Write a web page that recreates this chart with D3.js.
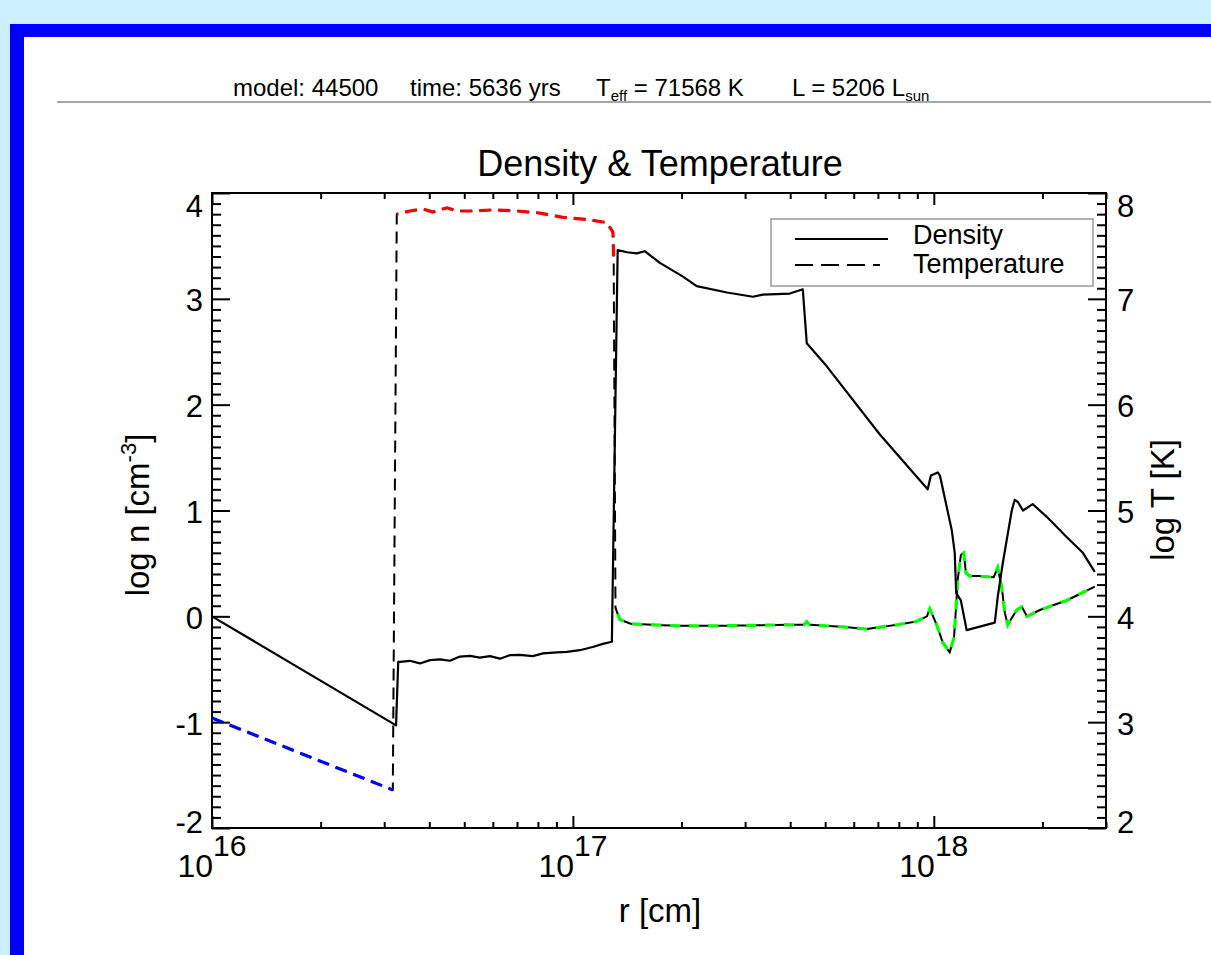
<!DOCTYPE html>
<html><head><meta charset="utf-8">
<script src="https://cdn.jsdelivr.net/npm/d3@7"></script>
<style>
body{margin:0;background:#fff;}
svg{display:block;}
text{font-family:"Liberation Sans",Arial,Helvetica,sans-serif;fill:#000;}
</style>
</head><body>
<svg id="c" width="1211" height="955"></svg>
<script>
// ---------- data ----------
const densityLogR = [16.000, 16.510, 16.516, 16.521, 16.548, 16.576, 16.604, 16.632, 16.659, 16.687, 16.715, 16.742, 16.770, 16.798, 16.825, 16.853, 16.889, 16.917, 16.956, 16.983, 17.019, 17.055, 17.083, 17.108, 17.124, 17.150, 17.177, 17.199, 17.241, 17.305, 17.343, 17.427, 17.499, 17.526, 17.601, 17.637, 17.648, 17.704, 17.850, 17.983, 17.992, 18.011, 18.017, 18.050, 18.058, 18.062, 18.075, 18.091, 18.169, 18.177, 18.191, 18.216, 18.224, 18.233, 18.247, 18.274, 18.313, 18.368, 18.413, 18.446];
const densityLogN = [0.00, -1.03, -0.43, -0.43, -0.42, -0.445, -0.414, -0.407, -0.42, -0.38, -0.373, -0.39, -0.376, -0.40, -0.367, -0.364, -0.376, -0.35, -0.34, -0.335, -0.32, -0.29, -0.26, -0.24, 3.46, 3.44, 3.43, 3.45, 3.34, 3.21, 3.12, 3.06, 3.02, 3.04, 3.05, 3.09, 2.58, 2.36, 1.72, 1.20, 1.33, 1.36, 1.33, 0.81, 0.60, 0.22, 0.15, -0.13, -0.06, 0.18, 0.50, 1.00, 1.10, 1.08, 1.00, 1.06, 0.94, 0.75, 0.60, 0.42];

const tempLogR = [16.000, 16.250, 16.501, 16.512, 16.548, 16.584, 16.612, 16.651, 16.679, 16.715, 16.778, 16.845, 16.909, 16.972, 17.039, 17.094, 17.111, 17.113, 17.118, 17.130, 17.160, 17.220, 17.296, 17.400, 17.500, 17.600, 17.640, 17.648, 17.655, 17.750, 17.814, 17.898, 17.950, 17.981, 17.989, 18.008, 18.025, 18.044, 18.056, 18.062, 18.066, 18.075, 18.083, 18.089, 18.100, 18.125, 18.166, 18.177, 18.188, 18.197, 18.205, 18.215, 18.230, 18.244, 18.258, 18.294, 18.368, 18.446];
const tempLogT = [3.04, 2.70, 2.36, 7.80, 7.83, 7.85, 7.82, 7.86, 7.83, 7.83, 7.84, 7.83, 7.81, 7.77, 7.75, 7.72, 7.63, 7.37, 4.08, 3.97, 3.93, 3.92, 3.91, 3.91, 3.915, 3.92, 3.92, 3.95, 3.92, 3.90, 3.88, 3.92, 3.95, 4.00, 4.07, 3.92, 3.75, 3.66, 3.80, 4.10, 4.34, 4.58, 4.60, 4.41, 4.38, 4.38, 4.37, 4.46, 4.28, 4.03, 3.92, 3.98, 4.06, 4.09, 4.00, 4.06, 4.15, 4.28];
const tempPhase = ["cool","cool","cool",
  "hot","hot","hot","hot","hot","hot","hot","hot","hot","hot","hot","hot","hot","hot","hot",
  "ion","ion","ion","ion","ion","ion","ion","ion","ion","ion","ion","ion","ion","ion","ion","ion","ion","ion","ion","ion","ion","ion",
  "ion","ion","ion","ion","ion","ion","ion","ion","ion","ion","ion","ion","ion","ion","ion","ion","ion","ion"];
const phaseColor = {cool:"#0000ff", hot:"#ff0000", ion:"#00ff00"};

const leftTicks = [-2, -1, 0, 1, 2, 3, 4];
const rightTicks = [2, 3, 4, 5, 6, 7, 8];
const xDecades = [16, 17, 18];
const legendLabels = ["Density", "Temperature"];
const titleText = "Density & Temperature";

// ---------- layout ----------
const W = 1211, H = 955;
const X0 = 212, X1 = 1106, Y0 = 193, Y1 = 828;
const svg = d3.select("#c");

svg.append("rect").attr("width", W).attr("height", H).attr("fill", "#ccf0ff");
svg.append("rect").attr("x", 10).attr("y", 24).attr("width", W - 10).attr("height", H - 24).attr("fill", "#0000ff");
svg.append("rect").attr("x", 24).attr("y", 37).attr("width", W - 24).attr("height", H - 37).attr("fill", "#ffffff");

// header
const hdr = svg.append("g").attr("font-size", 24);
function hText(xp, parts) {
  const t = hdr.append("text").attr("x", xp).attr("y", 96);
  parts.forEach(p => {
    const s = t.append("tspan").text(p[0]);
    if (p[1] === "sub") s.attr("font-size", 15).attr("dy", 5);
    if (p[1] === "back") s.attr("dy", -5);
  });
}
hText(233, [["model: 44500"]]);
hText(410, [["time: 5636 yrs"]]);
hText(596, [["T"], ["eff", "sub"], [" = 71568 K", "back"]]);
hText(792, [["L = 5206 L"], ["sun", "sub"]]);
svg.append("line").attr("x1", 57).attr("x2", W).attr("y1", 102).attr("y2", 102)
  .attr("stroke", "#8a8a8a").attr("stroke-width", 1.5);

// scales
const x = d3.scaleLog().domain([1e16, 3e18]).range([X0, X1]);
const yL = d3.scaleLinear().domain([-2, 4]).range([Y1, Y0]);
const yR = d3.scaleLinear().domain([2, 8]).range([Y1, Y0]);

// ticks
const xMajor = xDecades.map(d => Math.pow(10, d));
const xMinor = [];
xDecades.forEach(d => { for (let k = 2; k <= 9; k++) { const v = k * Math.pow(10, d); if (v <= 3e18) xMinor.push(v); } });
const lMinor = d3.range(-20, 41).map(v => v / 10).filter(v => Math.abs(v - Math.round(v)) > 1e-6);
const rMinor = d3.range(20, 81).map(v => v / 10).filter(v => Math.abs(v - Math.round(v)) > 1e-6);

function axisG(axis, tx, ty) {
  const g = svg.append("g").attr("transform", `translate(${tx},${ty})`).call(axis);
  g.select(".domain").remove();
  g.selectAll("line").attr("stroke", "#000").attr("stroke-width", 2);
  g.selectAll("text").remove();
  return g;
}
axisG(d3.axisBottom(x).tickValues(xMajor).tickSize(-12), 0, Y1);
axisG(d3.axisBottom(x).tickValues(xMinor).tickSize(-6), 0, Y1);
axisG(d3.axisTop(x).tickValues(xMajor).tickSize(-12), 0, Y0);
axisG(d3.axisTop(x).tickValues(xMinor).tickSize(-6), 0, Y0);
axisG(d3.axisLeft(yL).tickValues(leftTicks).tickSize(-18), X0, 0);
axisG(d3.axisLeft(yL).tickValues(lMinor).tickSize(-9), X0, 0);
axisG(d3.axisRight(yR).tickValues(rightTicks).tickSize(-18), X1, 0);
axisG(d3.axisRight(yR).tickValues(rMinor).tickSize(-9), X1, 0);

svg.append("rect").attr("x", X0).attr("y", Y0).attr("width", X1 - X0).attr("height", Y1 - Y0)
  .attr("fill", "none").attr("stroke", "#000").attr("stroke-width", 2);

// tick labels
const clampY = v => Math.max(Y0 + 13, Math.min(Y1 - 6, v + 2));
svg.append("g").attr("font-size", 31).selectAll("text").data(leftTicks).join("text")
  .attr("x", X0 - 9).attr("y", d => clampY(yL(d))).attr("text-anchor", "end")
  .attr("dominant-baseline", "central").text(d => d);
svg.append("g").attr("font-size", 31).selectAll("text").data(rightTicks).join("text")
  .attr("x", X1 + 11).attr("y", d => clampY(yR(d))).attr("text-anchor", "start")
  .attr("dominant-baseline", "central").text(d => d);
const xl = svg.append("g").selectAll("text").data(xDecades).join("text")
  .attr("x", d => x(Math.pow(10, d))).attr("y", 877).attr("text-anchor", "middle").attr("font-size", 32);
xl.append("tspan").text("10");
xl.append("tspan").attr("dy", -21).attr("font-size", 30).text(d => d);

// titles
svg.append("text").attr("x", 660).attr("y", 176).attr("text-anchor", "middle")
  .attr("font-size", 36).text(titleText);
svg.append("text").attr("x", 660).attr("y", 922).attr("text-anchor", "middle")
  .attr("font-size", 33).text("r [cm]");
const ly = svg.append("text").attr("transform", "translate(149,515) rotate(-90)")
  .attr("text-anchor", "middle").attr("font-size", 33);
ly.append("tspan").text("log n [cm");
ly.append("tspan").attr("dy", -13).attr("font-size", 22).text("-3");
ly.append("tspan").attr("dy", 13).text("]");
svg.append("text").attr("transform", "translate(1174,500) rotate(-90)")
  .attr("text-anchor", "middle").attr("font-size", 33).text("log T [K]");

// temperature
const tPts = tempLogR.map((r, i) => ({ r: Math.pow(10, r), t: tempLogT[i], p: tempPhase[i] }));
const tLine = d3.line().x(d => x(d.r)).y(d => yR(d.t));
const DASH = [12, 7];
svg.append("path").attr("d", tLine(tPts)).attr("fill", "none").attr("stroke", "#000")
  .attr("stroke-width", 2).attr("stroke-dasharray", DASH.join(","));

const tmp = svg.append("path").attr("fill", "none").attr("stroke", "none");
let i = 0;
while (i < tPts.length) {
  let j = i;
  while (j + 1 < tPts.length && tPts[j + 1].p === tPts[i].p) j++;
  const run = tPts.slice(i, j + 1);
  tmp.attr("d", tLine(tPts.slice(0, i + 1)));
  const startLen = i > 0 ? tmp.node().getTotalLength() : 0;
  const isIon = tPts[i].p === "ion";
  const off = isIon ? startLen - 9 : startLen;
  if (run.length > 1) {
    svg.append("path").attr("d", tLine(run)).attr("fill", "none")
      .attr("stroke", phaseColor[tPts[i].p]).attr("stroke-width", 3.2)
      .attr("stroke-dasharray", isIon ? "10,9" : DASH.join(",")).attr("stroke-dashoffset", off);
  }
  i = j + 1;
}
tmp.remove();

// density
const dPts = densityLogR.map((r, k) => ({ r: Math.pow(10, r), n: densityLogN[k] }));
svg.append("path").attr("d", d3.line().x(d => x(d.r)).y(d => yL(d.n))(dPts))
  .attr("fill", "none").attr("stroke", "#000").attr("stroke-width", 2.2).attr("stroke-linejoin", "round");

// legend
const lg = svg.append("g");
lg.append("rect").attr("x", 771).attr("y", 219).attr("width", 322).attr("height", 67)
  .attr("fill", "#fff").attr("stroke", "#999").attr("stroke-width", 1.5);
lg.append("line").attr("x1", 795).attr("x2", 888).attr("y1", 239).attr("y2", 239)
  .attr("stroke", "#000").attr("stroke-width", 2.2);
lg.append("line").attr("x1", 795).attr("x2", 880).attr("y1", 265).attr("y2", 265)
  .attr("stroke", "#000").attr("stroke-width", 2.2).attr("stroke-dasharray", "18,8");
lg.selectAll("text").data(legendLabels).join("text")
  .attr("x", 913).attr("y", (d, k) => 244 + k * 29).attr("font-size", 27).text(d => d);
</script>
</body></html>
